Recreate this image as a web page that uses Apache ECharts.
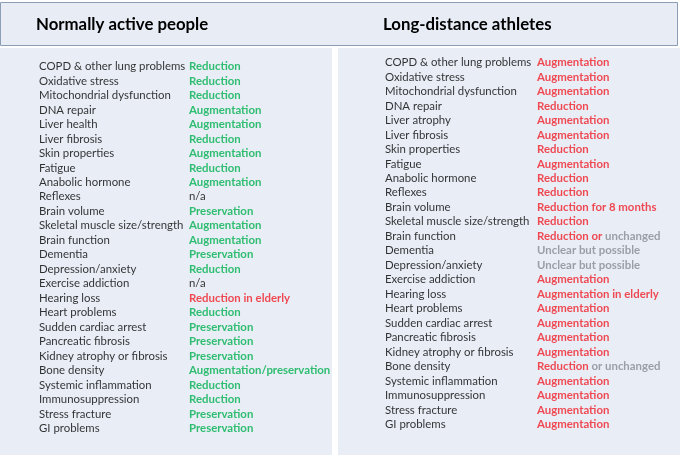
<!DOCTYPE html>
<html><head><meta charset="utf-8">
<script src="https://cdn.jsdelivr.net/npm/echarts@6/dist/echarts.min.js"></script>
<style>html,body{margin:0;padding:0;background:#fff}#c{width:680px;height:460px}</style>
</head><body><div id="c"></div>
<script>
const titles = ['Normally active people', 'Long-distance athletes'];
const leftFactors = ['COPD & other lung problems','Oxidative stress','Mitochondrial dysfunction','DNA repair','Liver health','Liver fibrosis','Skin properties','Fatigue','Anabolic hormone','Reflexes','Brain volume','Skeletal muscle size/strength','Brain function','Dementia','Depression/anxiety','Exercise addiction','Hearing loss','Heart problems','Sudden cardiac arrest','Pancreatic fibrosis','Kidney atrophy or fibrosis','Bone density','Systemic inflammation','Immunosuppression','Stress fracture','GI problems'];
const leftEffects = ['Reduction','Reduction','Reduction','Augmentation','Augmentation','Reduction','Augmentation','Reduction','Augmentation','n/a','Preservation','Augmentation','Augmentation','Preservation','Reduction','n/a','Reduction in elderly','Reduction','Preservation','Preservation','Preservation','Augmentation/preservation','Reduction','Reduction','Preservation','Preservation'];
const rightFactors = ['COPD & other lung problems','Oxidative stress','Mitochondrial dysfunction','DNA repair','Liver atrophy','Liver fibrosis','Skin properties','Fatigue','Anabolic hormone','Reflexes','Brain volume','Skeletal muscle size/strength','Brain function','Dementia','Depression/anxiety','Exercise addiction','Hearing loss','Heart problems','Sudden cardiac arrest','Pancreatic fibrosis','Kidney atrophy or fibrosis','Bone density','Systemic inflammation','Immunosuppression','Stress fracture','GI problems'];
// text in [brackets] is shown in grey
const rightEffects = ['Augmentation','Augmentation','Augmentation','Reduction','Augmentation','Augmentation','Reduction','Augmentation','Reduction','Reduction','Reduction for 8 months','Reduction','Reduction or [unchanged]','[Unclear but possible]','[Unclear but possible]','Augmentation','Augmentation in elderly','Augmentation','Augmentation','Augmentation','Augmentation','Reduction [or unchanged]','Augmentation','Augmentation','Augmentation','Augmentation'];

const FONT = 'Lato';
const FS = 11.4;
const rich = {
  g: {color:'#00b050', fontWeight:'bold', fontFamily:FONT, fontSize:FS},
  r: {color:'#f01e28', fontWeight:'bold', fontFamily:FONT, fontSize:FS},
  y: {color:'#868b94', fontWeight:'bold', fontFamily:FONT, fontSize:FS},
  k: {color:'#000', fontWeight:'normal', fontFamily:FONT, fontSize:FS}
};
function leftTone(s){ if (s==='n/a') return '{k|'+s+'}'; if (/elderly/.test(s)) return '{r|'+s+'}'; return '{g|'+s+'}'; }
function rightTone(s){
  return s.split(/(\[[^\]]*\])/).filter(p=>p.length).map(p=>{
    if (p[0]==='[') return '{y|'+p.slice(1,-1)+'}';
    return '{r|'+p+'}';
  }).join('');
}

const chart = echarts.init(document.getElementById('c'), null, {renderer:'canvas'});
const rowH = 14.48;
const n = leftFactors.length;
function grid(left, width, firstCenter){ return {left:left, width:width, top:firstCenter-rowH/2, height:rowH*n}; }

function textSeries(idx, factors, effects, effX, tone){
  return [
    {type:'scatter', xAxisIndex:idx, yAxisIndex:idx, symbolSize:0, silent:true,
     data: factors.map((f,i)=>[0,i]),
     label:{show:true, position:'right', distance:0, color:'#000', fontFamily:FONT, fontSize:FS,
            formatter:p=>factors[p.data[1]]}},
    {type:'scatter', xAxisIndex:idx, yAxisIndex:idx, symbolSize:0, silent:true,
     data: effects.map((e,i)=>[effX,i]),
     label:{show:true, position:'right', distance:0, rich:rich,
            formatter:p=>tone(effects[p.data[1]])}}
  ];
}

chart.setOption({
  animation:false,
  backgroundColor:'#ffffff',
  graphic:[
    {type:'rect', shape:{x:0,y:48,width:332,height:407}, style:{fill:'#e9eef6'}, z:-10},
    {type:'rect', shape:{x:338,y:48,width:342,height:407}, style:{fill:'#e9eef6'}, z:-10},
    {type:'rect', shape:{x:0.5,y:2.5,width:677,height:43}, style:{fill:'#e7ecf5', stroke:'#8c9db6', lineWidth:1}, z:-10},
    {type:'text', x:36, y:25, style:{text:titles[0], fill:'#000', font:'bold 16.8px '+FONT, textVerticalAlign:'middle'}},
    {type:'text', x:383, y:25, style:{text:titles[1], fill:'#000', font:'bold 16.8px '+FONT, textVerticalAlign:'middle'}}
  ],
  grid:[grid(39,300,66.5), grid(385,290,62.5)],
  xAxis:[
    {type:'value', gridIndex:0, min:0, max:300, show:false},
    {type:'value', gridIndex:1, min:0, max:290, show:false}
  ],
  yAxis:[
    {type:'category', gridIndex:0, data:leftFactors.map((f,i)=>i), inverse:true, show:false},
    {type:'category', gridIndex:1, data:rightFactors.map((f,i)=>i), inverse:true, show:false}
  ],
  series:[].concat(
    textSeries(0, leftFactors, leftEffects, 150, leftTone),
    textSeries(1, rightFactors, rightEffects, 152, rightTone)
  )
});
</script></body></html>
